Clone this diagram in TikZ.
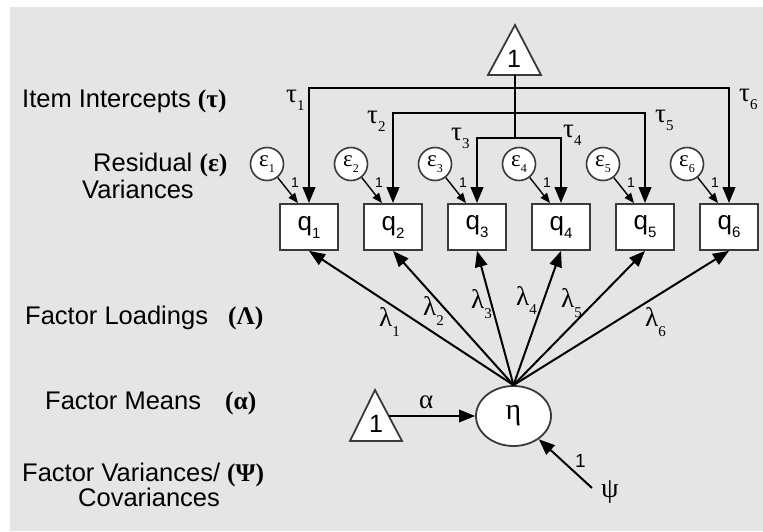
\documentclass[tikz,border=0pt]{standalone}
\usepackage{fontspec}
\setmainfont{Liberation Sans}
\newfontfamily\grk{Liberation Serif}
\usepackage{tikz}
\usetikzlibrary{arrows.meta, shapes.geometric}

\definecolor{bg}{HTML}{E5E5E5}
\definecolor{boxline}{HTML}{3A3A3A}

% lowered index next to a symbol
\newcommand{\sub}[2][8pt]{\raisebox{-#1}{\fontsize{15}{15}\selectfont #2}}
\newcommand{\esub}[1]{\raisebox{-6pt}{\fontsize{12}{12}\selectfont #1}}

\begin{document}
\begin{tikzpicture}[x=1pt, y=-1pt,
    item/.style={draw=boxline, fill=white, line width=1.8pt, minimum width=58pt, minimum height=46pt, inner sep=0pt, font=\fontsize{26}{26}\selectfont},
    resid/.style={draw=boxline, fill=white, circle, line width=1.6pt, minimum size=33pt, inner sep=0pt, font=\grk\fontsize{23}{23}\selectfont},
    latent/.style={draw=boxline, fill=white, ellipse, line width=1.8pt, minimum width=75pt, minimum height=60pt, inner sep=0pt, font=\grk\fontsize{30}{30}\selectfont},
    const/.style={draw=boxline, fill=white, line width=1.8pt, line join=miter},
    trunk/.style={line width=2.2pt},
    tau/.style={line width=2.2pt, -{Triangle[length=16pt, width=12.5pt]}},
    load/.style={line width=2pt, -{Triangle[length=16pt, width=12.5pt]}},
    resarrow/.style={line width=1.4pt, -{Triangle[length=10pt, width=8pt]}},
    greek/.style={font=\grk\fontsize{27}{27}\selectfont, inner sep=0pt, anchor=base west},
    one/.style={font=\fontsize{14}{14}\selectfont, inner sep=0pt, anchor=base west},
    lab/.style={font=\fontsize{25.5}{28}\selectfont, inner sep=0pt, anchor=base west},
]
\useasboundingbox (0,0) rectangle (763,531);
\fill[bg] (10,7) rectangle (763,531);

% Row labels
\node[lab] (itm) at (22,107) {Item Intercepts {\grk\bfseries(τ)}};
\node[lab] (res) at (93,171) {Residual {\grk\bfseries(ε)}};
\node[lab] (resv) at (82,198) {Variances};
\node[lab] (fl) at (25,324) {Factor Loadings\hspace{20pt}{\grk\bfseries(Λ)}};
\node[lab] (fm) at (45,409) {Factor Means\hspace{24pt}{\grk\bfseries(α)}};
\node[lab, text depth=0pt] (fv) at (22,481) {Factor Variances/ {\grk\bfseries(Ψ)}};
\node[lab] (fc) at (78,506) {Covariances};

% Intercept constant
\draw[const] (488,75) -- (515,25) -- (541,75) -- cycle;
\node[font=\fontsize{25}{25}\selectfont, inner sep=0pt] (one) at (514,59) {1};
\coordinate (base) at (515,75);
\coordinate (t1) at (515,88);
\coordinate (t2) at (515,113);
\coordinate (t3) at (515,138);

% Items
\node[item] (q1) at (309,227) {q\sub{1}};
\node[item] (q2) at (393,227) {q\sub{2}};
\node[item] (q3) at (477,227) {q\sub{3}};
\node[item] (q4) at (561,227) {q\sub{4}};
\node[item] (q5) at (645,227) {q\sub{5}};
\node[item] (q6) at (729,227) {q\sub{6}};

% Residuals
\node[resid] (e1) at (267,164) {ε\esub{1}};
\node[resid] (e2) at (351,164) {ε\esub{2}};
\node[resid] (e3) at (435,164) {ε\esub{3}};
\node[resid] (e4) at (519,164) {ε\esub{4}};
\node[resid] (e5) at (603,164) {ε\esub{5}};
\node[resid] (e6) at (687,164) {ε\esub{6}};

% Factor
\node[latent] (eta) at (513.5,416) {η};

% Intercept paths
\draw[trunk] (base) -- (t3);
\draw[tau] (t1) -| (q1.north);
\draw[tau] (t1) -| (q6.north);
\draw[tau] (t2) -| (q2.north);
\draw[tau] (t2) -| (q5.north);
\draw[tau] (t3) -| (q3.north);
\draw[tau] (t3) -| (q4.north);
\node[greek] (tau1) at (286,102) {τ\sub{1}};
\node[greek] (tau2) at (367,123) {τ\sub{2}};
\node[greek] (tau3) at (451,140) {τ\sub{3}};
\node[greek] (tau4) at (563,137) {τ\sub{4}};
\node[greek] (tau5) at (655,122) {τ\sub{5}};
\node[greek] (tau6) at (739,101) {τ\sub{6}};

% Residual paths
\draw[resarrow] (e1) -- ([xshift=-11pt]q1.north);
\draw[resarrow] (e2) -- ([xshift=-11pt]q2.north);
\draw[resarrow] (e3) -- ([xshift=-11pt]q3.north);
\draw[resarrow] (e4) -- ([xshift=-11pt]q4.north);
\draw[resarrow] (e5) -- ([xshift=-11pt]q5.north);
\draw[resarrow] (e6) -- ([xshift=-11pt]q6.north);
\node[one] (r1) at (291,187) {1};
\node[one] (r2) at (375,187) {1};
\node[one] (r3) at (459,187) {1};
\node[one] (r4) at (543,187) {1};
\node[one] (r5) at (627,187) {1};
\node[one] (r6) at (711,187) {1};

% Loadings
\draw[load] (eta.north) -- (q1.south);
\draw[load] (eta.north) -- (q2.south);
\draw[load] (eta.north) -- (q3.south);
\draw[load] (eta.north) -- (q4.south);
\draw[load] (eta.north) -- (q5.south);
\draw[load] (eta.north) -- (q6.south);
\node[greek] (l1) at (379,326) {λ\sub[10pt]{1}};
\node[greek] (l2) at (423,315) {λ\sub[10pt]{2}};
\node[greek] (l3) at (471,308) {λ\sub[10pt]{3}};
\node[greek] (l4) at (516,305) {λ\sub[9pt]{4}};
\node[greek] (l5) at (561,307) {λ\sub[10pt]{5}};
\node[greek] (l6) at (645,326) {λ\sub[10pt]{6}};

% Mean
\draw[const] (350,441) -- (375,390) -- (402,441) -- cycle;
\node[font=\fontsize{25}{25}\selectfont, inner sep=0pt] (one2) at (376,424) {1};
\coordinate (m0) at (389,416);
\draw[load] (m0) -- (eta.west);
\node[greek] (alpha) at (419,408) {α};

% Variance
\coordinate (v0) at (592,488);
\draw[load] (v0) -- (eta);
\node[font=\fontsize{19}{19}\selectfont, inner sep=0pt, anchor=base west] (vone) at (575,467) {1};
\node[greek, font=\grk\fontsize{28}{28}\selectfont] (psi) at (601,497) {ψ};
\end{tikzpicture}
\end{document}
